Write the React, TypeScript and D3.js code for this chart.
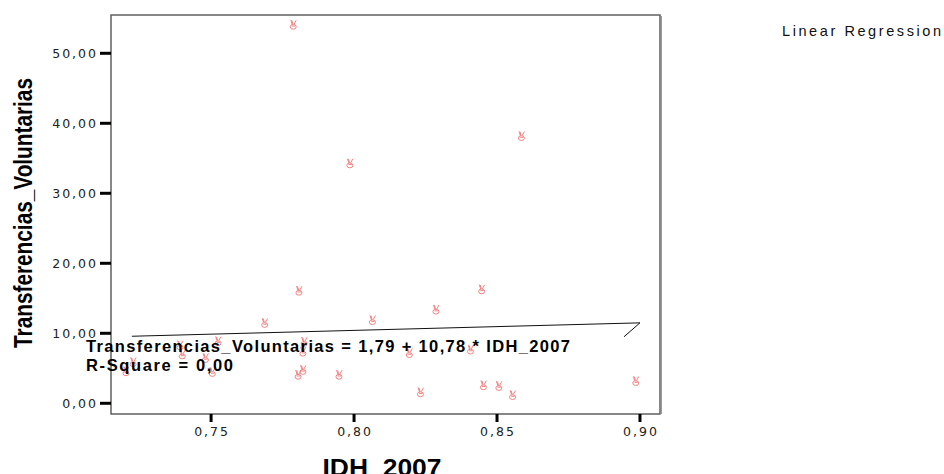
import React from "react";
import * as d3 from "d3";

// ---- data ----
const idh: number[] = [
  0.7788, 0.7986, 0.8586, 0.7808, 0.8447, 0.7688, 0.8065, 0.8287, 0.7392,
  0.74, 0.7525, 0.7826, 0.7822, 0.7228, 0.7203, 0.7481, 0.7505, 0.7805,
  0.7822, 0.8194, 0.8408, 0.7948, 0.8233, 0.8453, 0.8507, 0.8555, 0.8986,
];
const transferencias: number[] = [
  54.1, 34.3, 38.2, 16.1, 16.3, 11.5, 11.9, 13.4, 8.3, 7.0, 8.9, 8.8, 7.4,
  5.9, 4.6, 6.5, 4.5, 4.1, 4.8, 7.2, 7.7, 4.1, 1.6, 2.6, 2.5, 1.2, 3.2,
];
const intercept = 1.79;
const slope = 10.78;
const fitRange: [number, number] = [0.7223, 0.9];
const hookEnd: [number, number] = [0.8944, 9.5];

const yTicks: number[] = [0, 10, 20, 30, 40, 50];
const yTickLabels: string[] = ["0,00", "10,00", "20,00", "30,00", "40,00", "50,00"];
const xTicks: number[] = [0.75, 0.8, 0.85, 0.9];
const xTickLabels: string[] = ["0,75", "0,80", "0,85", "0,90"];

const xTitle = "IDH_2007";
const yTitle = "Transferencias_Voluntarias";
const eqText = "Transferencias_Voluntarias = 1,79 +  10,78 * IDH_2007";
const rText = "R-Square = 0,00";
const legendText = "Linear Regression";

const W = 944;
const H = 474;
const frame = { left: 111, top: 15, right: 660, bottom: 414 };
const FONT = "Arial, 'Liberation Sans', sans-serif";
const TICKFONT = "'DejaVu Sans', Arial, sans-serif";

// "victory hand" marker outline, relative to the point
const MARKER =
  "M-1.2,-0.2 L-2.6,-4.6 M0.6,-0.4 L2.8,-4.4 M-1.6,-4.2 L-0.6,-0.6 " +
  "M-3.2,2.2 A3,2.4 0 1 0 2.8,2.2 A3,2.4 0 1 0 -3.2,2.2 M-1.5,1.4 L1.8,1.4";

export default function App() {
  const x = d3.scaleLinear().domain([0.715, 0.907]).range([frame.left, frame.right]);
  const y = d3.scaleLinear().domain([-1.53, 55.47]).range([frame.bottom, frame.top]);
  const fit = (v: number) => intercept + slope * v;

  const line = d3
    .line<[number, number]>()
    .x((d) => x(d[0]))
    .y((d) => y(d[1]));
  const fitPath = line([
    [fitRange[0], fit(fitRange[0])],
    [fitRange[1], fit(fitRange[1])],
    hookEnd,
  ]);

  const LS = 2;

  return (
    <svg
      width={W}
      height={H}
      style={{ position: "absolute", left: 0, top: 0, background: "#fff" }}
      fontFamily={FONT}
    >
      <rect x={0} y={0} width={W} height={H} fill="#fff" />
      {/* frame */}
      <rect
        x={frame.left}
        y={frame.top}
        width={frame.right - frame.left}
        height={frame.bottom - frame.top}
        fill="none"
        stroke="#555"
        strokeWidth={1.4}
      />
      <line x1={frame.right + 1.5} y1={frame.top + 1} x2={frame.right + 1.5} y2={frame.bottom} stroke="#999" strokeWidth={1} />

      {/* y ticks */}
      {yTicks.map((t, i) => (
        <g key={"y" + t}>
          <line x1={100} x2={frame.left} y1={y(t)} y2={y(t)} stroke="#000" strokeWidth={3} />
          <text
            x={96 + LS}
            y={y(t) + 4.6}
            textAnchor="end"
            fontSize={12.5}
            fontFamily={TICKFONT}
            letterSpacing={LS}
            fill="#222"
          >
            {yTickLabels[i]}
          </text>
        </g>
      ))}

      {/* x ticks */}
      {xTicks.map((t, i) => (
        <g key={"x" + t}>
          <line x1={x(t)} x2={x(t)} y1={frame.bottom} y2={422} stroke="#000" strokeWidth={3} />
          <text
            x={x(t) + LS / 2}
            y={436}
            textAnchor="middle"
            fontSize={12.5}
            fontFamily={TICKFONT}
            letterSpacing={LS}
            fill="#222"
          >
            {xTickLabels[i]}
          </text>
        </g>
      ))}

      {/* points */}
      {idh.map((v, i) => (
        <path
          key={"p" + i}
          d={MARKER}
          transform={`translate(${x(v)},${y(transferencias[i])})`}
          fill="none"
          stroke="#f07474"
          strokeWidth={0.9}
        />
      ))}

      {/* regression line */}
      <path d={fitPath ?? ""} fill="none" stroke="#111" strokeWidth={1} />

      {/* equation */}
      <text x={86} y={351.7} fontSize={16.5} fontWeight="bold" fill="#000" textLength={484} lengthAdjust="spacing">
        {eqText}
      </text>
      <text x={86} y={370.7} fontSize={16.5} fontWeight="bold" fill="#000" textLength={147} lengthAdjust="spacing">
        {rText}
      </text>

      {/* titles */}
      <text
        transform={`translate(32,213) rotate(-90)`}
        textAnchor="middle"
        fontSize={25}
        fontWeight="bold"
        fill="#000"
        textLength={270}
        lengthAdjust="spacingAndGlyphs"
      >
        {yTitle}
      </text>
      <text x={382} y={475.5} textAnchor="middle" fontSize={24.5} fontWeight="bold" fill="#000" textLength={119} lengthAdjust="spacingAndGlyphs">
        {xTitle}
      </text>

      {/* legend */}
      <text x={782} y={36} fontSize={14.5} fill="#111" textLength={159} lengthAdjust="spacing">
        {legendText}
      </text>
    </svg>
  );
}
